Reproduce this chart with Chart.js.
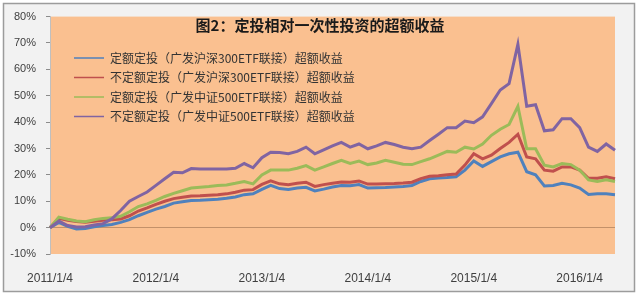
<!DOCTYPE html>
<html><head><meta charset="utf-8">
<script src="https://cdn.jsdelivr.net/npm/chart.js@4/dist/chart.umd.min.js"></script>
<style>html,body{margin:0;padding:0;background:#fff}</style>
</head><body>
<canvas id="c" width="640" height="296"></canvas>
<script>
const TITLE = '图2：定投相对一次性投资的超额收益';
const seriesNames = [
  '定额定投（广发沪深300ETF联接）超额收益',
  '不定额定投（广发沪深300ETF联接）超额收益',
  '定额定投（广发中证500ETF联接）超额收益',
  '不定额定投（广发中证500ETF联接）超额收益'
];
const categories = [
  '2011/1/4','2011/2/1','2011/3/1','2011/4/1','2011/5/3','2011/6/1','2011/7/1','2011/8/1','2011/9/1','2011/10/10','2011/11/1','2011/12/1',
  '2012/1/4','2012/2/1','2012/3/1','2012/4/5','2012/5/2','2012/6/1','2012/7/2','2012/8/1','2012/9/3','2012/10/8','2012/11/1','2012/12/3',
  '2013/1/4','2013/2/1','2013/3/1','2013/4/1','2013/5/2','2013/6/3','2013/7/1','2013/8/1','2013/9/2','2013/10/8','2013/11/1','2013/12/2',
  '2014/1/4','2014/2/7','2014/3/3','2014/4/1','2014/5/5','2014/6/3','2014/7/1','2014/8/1','2014/9/1','2014/10/8','2014/11/3','2014/12/1',
  '2015/1/4','2015/2/2','2015/3/2','2015/4/1','2015/5/4','2015/6/1','2015/7/1','2015/8/3','2015/9/1','2015/10/8','2015/11/2','2015/12/1',
  '2016/1/4','2016/2/1','2016/3/1','2016/4/1','2016/5/3'
];
const yTicks = [-10, 0, 10, 20, 30, 40, 50, 60, 70, 80];

const fixed300 = [0,2.0,0.5,-0.5,-0.3,0.3,0.8,1.2,2.0,3.0,4.5,5.8,
  7.0,8.0,9.3,9.8,10.3,10.4,10.6,10.8,11.1,11.6,12.5,12.8,
  14.5,16.0,14.8,14.5,15.0,15.3,13.9,14.6,15.4,16.0,15.9,16.3,
  15.0,15.1,15.2,15.4,15.6,16.0,17.5,18.5,18.8,19.0,19.3,21.8,
  25.3,23.2,25.0,26.8,28.0,28.6,21.2,20.0,15.8,16.0,16.8,16.2,
  15.0,12.6,12.8,12.8,12.5];
const variable300 = [0,3.5,2.8,2.3,2.0,2.4,2.8,3.0,3.3,4.5,6.3,7.5,
  8.8,10.0,11.0,11.5,12.0,12.1,12.3,12.5,12.8,13.4,14.2,14.4,
  16.4,17.7,16.6,16.3,16.8,17.2,15.6,16.3,16.8,17.3,17.2,17.7,
  16.5,16.5,16.6,16.7,16.9,17.2,18.6,19.5,19.7,20.0,20.3,23.7,
  28.0,26.1,27.5,30.0,32.3,35.4,26.8,26.1,21.8,21.4,23.0,23.0,
  21.8,18.7,18.7,19.3,18.5];
const fixed500 = [0,4.0,3.2,2.5,2.2,3.0,3.5,3.7,4.3,6.0,8.0,9.0,
  10.3,11.8,13.0,14.0,15.0,15.3,15.6,16.0,16.2,16.8,17.5,16.6,
  20.0,21.8,21.8,21.8,22.5,23.5,21.8,23.0,24.3,25.5,24.3,25.2,
  23.9,24.5,25.5,24.8,24.0,23.9,25.0,26.1,27.5,28.9,28.6,30.5,
  29.8,31.7,35.0,37.3,39.1,46.0,29.9,29.9,23.7,23.0,24.3,23.9,
  21.8,18.1,17.5,18.1,17.5];
const variable500 = [0,2.5,0.8,0.2,0.3,1.0,1.5,3.3,6.5,10.0,11.8,13.5,
  16.0,18.5,21.0,20.8,22.4,22.2,22.2,22.2,22.2,22.5,24.3,22.7,
  26.5,28.6,28.5,28.0,28.9,30.5,28.0,29.5,31.0,32.3,30.5,31.7,
  29.9,31.0,32.3,31.5,30.5,29.9,30.5,33.0,35.4,37.9,37.9,40.4,
  39.8,42.0,47.0,52.2,54.6,69.5,46.0,46.6,36.7,37.1,41.3,41.3,
  37.9,30.5,28.9,31.7,29.3];

const colors = ['#4F81BD', '#C0504D', '#9BBB59', '#8064A2'];
const seriesData = [fixed300, variable300, fixed500, variable500];

const backdrop = {
  id: 'backdrop',
  beforeDraw(chart) {
    const {ctx, chartArea: a} = chart;
    ctx.save();
    ctx.fillStyle = '#ffffff';
    ctx.fillRect(0, 0, chart.width, chart.height);
    ctx.fillStyle = '#F2F2F2';
    ctx.fillRect(3.5, 3.5, 631, 288);
    ctx.strokeStyle = '#9C9C9C';
    ctx.lineWidth = 1.5;
    ctx.strokeRect(3.5, 3.5, 631, 288);
    ctx.fillStyle = '#FAC090';
    ctx.fillRect(a.left, a.top, a.right - a.left, a.bottom - a.top);
    ctx.restore();
  },
  afterLayout(chart) {
    if (chart.legend) {
      chart.legend.left = 66.5;
      chart.legend.top = 44.5;
    }
  },
  afterDraw(chart) {
    const ctx = chart.ctx;
    ctx.save();
    ctx.font = 'bold 15px "Noto Sans CJK SC"';
    ctx.fillStyle = '#1a1a1a';
    ctx.textAlign = 'center';
    ctx.textBaseline = 'middle';
    ctx.fillText(TITLE, 320, 25);
    ctx.restore();
  }
};

new Chart(document.getElementById('c'), {
  type: 'line',
  data: {
    labels: categories,
    datasets: seriesData.map((d, i) => ({
      label: seriesNames[i],
      data: d,
      borderColor: colors[i],
      backgroundColor: colors[i],
      borderWidth: 3,
      pointRadius: 0,
      tension: 0,
      fill: false,
      order: 4 - i
    }))
  },
  options: {
    responsive: false,
    animation: false,
    devicePixelRatio: 1,
    layout: {padding: {left: 0, right: 25, top: 12, bottom: 0}},
    plugins: {
      title: {display: false},
      tooltip: {enabled: false},
      legend: {
        position: 'chartArea',
        align: 'start',
        labels: {
          usePointStyle: true,
          pointStyle: 'line',
          pointStyleWidth: 30,
          padding: 7.5,
          color: '#333333',
          font: {family: '"Noto Sans CJK SC"', size: 12},
          sort: (a, b) => a.datasetIndex - b.datasetIndex,
          generateLabels(chart) {
            const items = Chart.defaults.plugins.legend.labels.generateLabels(chart);
            items.forEach(it => { it.lineWidth = 1.5; });
            return items;
          }
        }
      }
    },
    scales: {
      x: {
        type: 'category',
        grid: {display: false, drawTicks: false},
        border: {display: false},
        ticks: {
          autoSkip: false, maxRotation: 0, minRotation: 0, padding: 17,
          color: '#404040',
          font: {family: '"Liberation Sans"', size: 12},
          callback: function(v, i) { return i % 12 === 0 ? this.getLabelForValue(v) : ''; }
        },
        afterFit: s => { s.height = 42; }
      },
      y: {
        min: -10, max: 80,
        afterBuildTicks: s => { s.ticks = yTicks.map(v => ({value: v})); },
        ticks: {
          color: '#404040', padding: 10,
          font: {family: '"Liberation Sans"', size: 11},
          callback: v => v + '%'
        },
        grid: {
          drawOnChartArea: true,
          drawTicks: true,
          tickLength: 4,
          tickColor: '#8C8C8C',
          color: ctx => (ctx.tick && ctx.tick.value === 0) ? '#C39169' : 'rgba(0,0,0,0)'
        },
        border: {display: true, color: '#BFBFBF'},
        afterFit: s => { s.width = 50; }
      }
    }
  },
  plugins: [backdrop]
});
</script>
</body></html>
